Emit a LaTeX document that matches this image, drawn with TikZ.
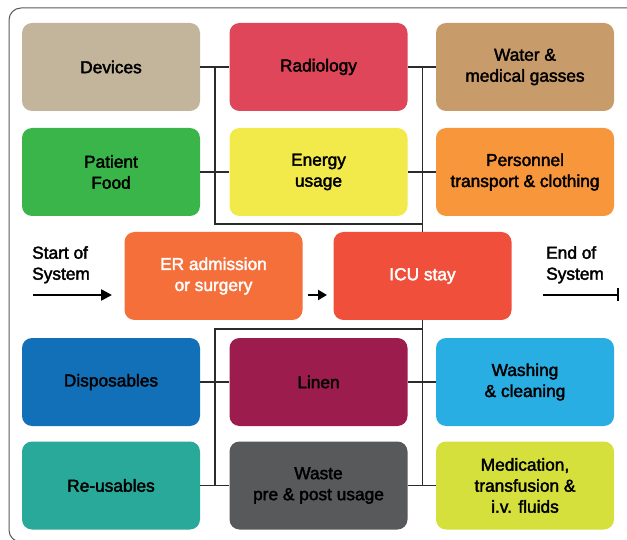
\documentclass[tikz,border=0pt]{standalone}
\usepackage{fontspec}
\setmainfont{Liberation Sans}[FakeBold=2.2]
\usetikzlibrary{arrows.meta}

\definecolor{cDevices}{HTML}{C2B59B}
\definecolor{cRadiology}{HTML}{DF4659}
\definecolor{cWater}{HTML}{C89B6B}
\definecolor{cFood}{HTML}{39B54A}
\definecolor{cEnergy}{HTML}{F2E94B}
\definecolor{cPersonnel}{HTML}{F8963C}
\definecolor{cER}{HTML}{F56F3A}
\definecolor{cICU}{HTML}{EF4F3B}
\definecolor{cDispo}{HTML}{1170B7}
\definecolor{cLinen}{HTML}{9C1D4D}
\definecolor{cWash}{HTML}{29AEE4}
\definecolor{cReuse}{HTML}{29A99A}
\definecolor{cWaste}{HTML}{58595B}
\definecolor{cMed}{HTML}{D5E03D}
\definecolor{cLine}{HTML}{2B2B2B}
\definecolor{cFrame}{HTML}{5A5A5A}

\tikzset{
  box/.style={rectangle, rounded corners=10pt, minimum width=178pt,
    minimum height=88pt, align=center, inner sep=2pt,
    font=\fontsize{17.3}{21}\selectfont, text=black},
  link/.style={draw=cLine, line width=1.5pt},
  flow/.style={line width=2.5pt, draw=black},
  label/.style={align=left, anchor=north west, inner sep=0pt,
    font=\fontsize{17.3}{21}\selectfont}
}

\begin{document}
\begin{tikzpicture}[x=1pt, y=-1pt]
  \clip (0,0) rectangle (627,540);
  \fill[white] (0,0) rectangle (627,540);
  % outer frame, partly running off the page
  \draw[cFrame, line width=1pt, rounded corners=12pt] (9,8) rectangle (660,542);

  % upper block of resources
  \node[box, fill=cDevices]   (dev) at (111,67)    {Devices};
  \node[box, fill=cRadiology] (rad) at (318.5,67)  {Radiology};
  \node[box, fill=cWater]     (wat) at (525,67)    {Water \&\\medical gasses};
  \node[box, fill=cFood]      (pf)  at (111,172) {Patient\\Food};
  \node[box, fill=cEnergy]    (en)  at (318.5,172) {Energy\\usage};
  \node[box, fill=cPersonnel] (per) at (525,172) {Personnel\\transport \& clothing};

  % patient pathway
  \node[box, fill=cER,  text=white] (er)  at (213.5,276) {ER admission\\or surgery};
  \node[box, fill=cICU, text=white] (icu) at (422.5,276) {ICU stay};

  % lower block of resources
  \node[box, fill=cDispo] (dis) at (111,382)    {Disposables};
  \node[box, fill=cLinen] (lin) at (318.5,382)  {Linen};
  \node[box, fill=cWash]  (was) at (525,382)    {Washing\\\& cleaning};
  \node[box, fill=cReuse] (reu) at (111,485.5)  {Re-usables};
  \node[box, fill=cWaste] (wst) at (318.5,485.5) {Waste\\pre \& post usage};
  \node[box, fill=cMed]   (med) at (525,485.5)  {Medication,\\transfusion \&\\i.v. fluids};

  % system boundary labels
  \node[label] (start) at (32,246) {Start of\\System};
  \node[label] (end)   at (546,246) {End of\\System};
  \coordinate (s0) at (33,295);
  \coordinate (s1) at (112,295);
  \coordinate (e0) at (543,295);
  \coordinate (e1) at (619,295);
  \coordinate (m0) at (308,295);
  \coordinate (m1) at (327,295);

  % junction points of the bus lines
  \coordinate (ul) at (215,67);
  \coordinate (ub) at (215,224);
  \coordinate (ll) at (215,329);
  \coordinate (lb) at (215,485.5);

  % upper connectors
  \draw[link] (dev.east) -- (rad.west);
  \draw[link] (pf.east) -- (en.west);
  \draw[link] (rad.east) -- (wat.west);
  \draw[link] (en.east) -- (per.west);
  \draw[link] (ul) -- (ub) -| (icu.north);
  \draw[link] (rad.east -| icu.north) -- (icu.north);

  % lower connectors
  \draw[link] (dis.east) -- (lin.west);
  \draw[link] (lin.east) -- (was.west);
  \draw[link] (reu.east) -- (wst.west);
  \draw[link] (wst.east) -- (med.west);
  \draw[link] (icu.south) -- (icu.south |- wst.east);
  \draw[link] (lb) -- (ll) -| (icu.south);

  % flow arrows
  \draw[flow, -{Triangle[length=11pt,width=11pt]}] (s0) -- (s1);
  \draw[flow, -{Triangle[length=9pt,width=10pt]}] (m0) -- (m1);
  \draw[flow, -{Bar[width=13pt]}] (e0) -- (e1);
\end{tikzpicture}
\end{document}
